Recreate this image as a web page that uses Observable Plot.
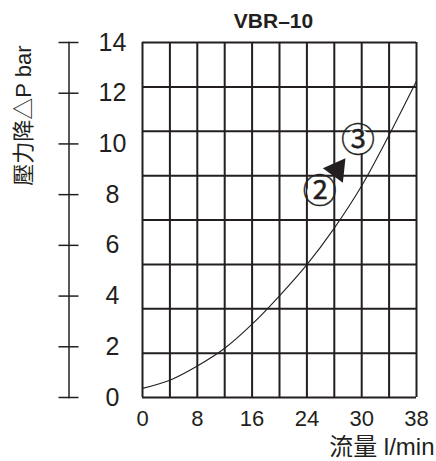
<!DOCTYPE html>
<html><head><meta charset="utf-8">
<script src="https://cdn.jsdelivr.net/npm/d3@7"></script>
<script src="https://cdn.jsdelivr.net/npm/@observablehq/plot@0.6"></script>
<style>body{margin:0;background:#fff}</style>
</head><body><div id="chart"></div>
<script>
const title = "VBR–10";
const xTitle = "流量 l/min";
const yTitle = "壓力降△P bar";
const flowTicks = [0, 8, 16, 24, 30, 38];
const flowGrid = [0, 4, 8, 12, 16, 20, 24, 27, 30, 34, 38];
const pressureTicks = [0, 2, 4, 6, 8, 10, 12, 14];
const pressureGrid = [0, 1.75, 3.5, 5.25, 7, 8.75, 10.5, 12.25, 14];
const curveFlow = [0, 4, 8, 12, 16, 20, 24, 27, 30, 34, 38];
const curvePressure = [0.36, 0.68, 1.24, 1.94, 2.89, 4.01, 5.24, 6.68, 8.35, 10.35, 12.48];
const labelText = ["②", "③"];
const labelFlow = [25.4, 29.6];
const labelPressure = [8.1, 10.1];
const arrowFlow = [27.3];
const arrowPressure = [8.98];
const arrowAngle = [36];

// chart x positions follow the drawn grid columns (tick labels are not evenly spaced in value)
const toCol = d3.scaleLinear().domain(flowTicks).range(flowTicks.map((_, i) => 2 * i));
const curve = curveFlow.map((f, i) => ({x: toCol(f), y: curvePressure[i]}));
const labels = labelText.map((t, i) => ({t, x: toCol(labelFlow[i]), y: labelPressure[i]}));
const arrows = arrowFlow.map((f, i) => ({x: toCol(f), y: arrowPressure[i], a: arrowAngle[i]}));
const ink = "#231f20";

const chart = Plot.plot({
  width: 436, height: 461,
  marginLeft: 142, marginRight: 20, marginTop: 42, marginBottom: 64,
  style: {fontFamily: "'Liberation Sans', 'Noto Sans CJK TC', sans-serif", color: ink, background: "#fff"},
  x: {domain: [0, 10]},
  y: {domain: [0, 14]},
  marks: [
    Plot.gridX(flowGrid.map(toCol), {stroke: ink, strokeOpacity: 1, strokeWidth: 2}),
    Plot.gridY(pressureGrid, {stroke: ink, strokeOpacity: 1, strokeWidth: 2}),
    Plot.line(curve, {x: "x", y: "y", curve: "catmull-rom", stroke: ink, strokeWidth: 1.1}),
    Plot.axisX(flowTicks.map(toCol), {tickSize: 0, tickPadding: 13, fontSize: 22, letterSpacing: 3, tickFormat: (d) => flowTicks[Math.round(d / 2)], label: null}),
    Plot.axisY(pressureTicks, {tickSize: 20, dx: -63.5, tickFormat: () => "", strokeWidth: 1.5, label: null}),
    Plot.frame({anchor: "left", dx: -73.5, stroke: ink, strokeWidth: 1.5}),
    Plot.text(pressureTicks, {y: (d) => d, frameAnchor: "left", dx: -30, textAnchor: "middle", fontSize: 25, fill: ink}),
    Plot.text([yTitle], {frameAnchor: "top-left", rotate: -90, textAnchor: "end", lineAnchor: "middle", dx: -119, dy: 3, fontSize: 22, fill: ink}),
    Plot.text([xTitle], {frameAnchor: "bottom-right", textAnchor: "end", lineAnchor: "middle", dx: 18, dy: 50, fontSize: 24, letterSpacing: 2, fill: ink}),
    Plot.text([title], {frameAnchor: "top", lineAnchor: "middle", dx: -6, dy: -21, fontSize: 21, fontWeight: "bold", letterSpacing: 1.5, fill: ink}),
    Plot.dot(labels, {x: "x", y: "y", r: 12.5, fill: "#fff", stroke: "none"}),
    Plot.text(labels, {x: "x", y: "y", text: "t", fontSize: 34, fontFamily: "'Noto Sans CJK TC'", stroke: ink, strokeWidth: 0.4, fill: ink}),
    Plot.dot(arrows, {x: "x", y: "y", symbol: "triangle", r: 9.2, rotate: "a", fill: ink, stroke: "none"})
  ]
});
document.getElementById("chart").appendChild(chart);
</script>
</body></html>
